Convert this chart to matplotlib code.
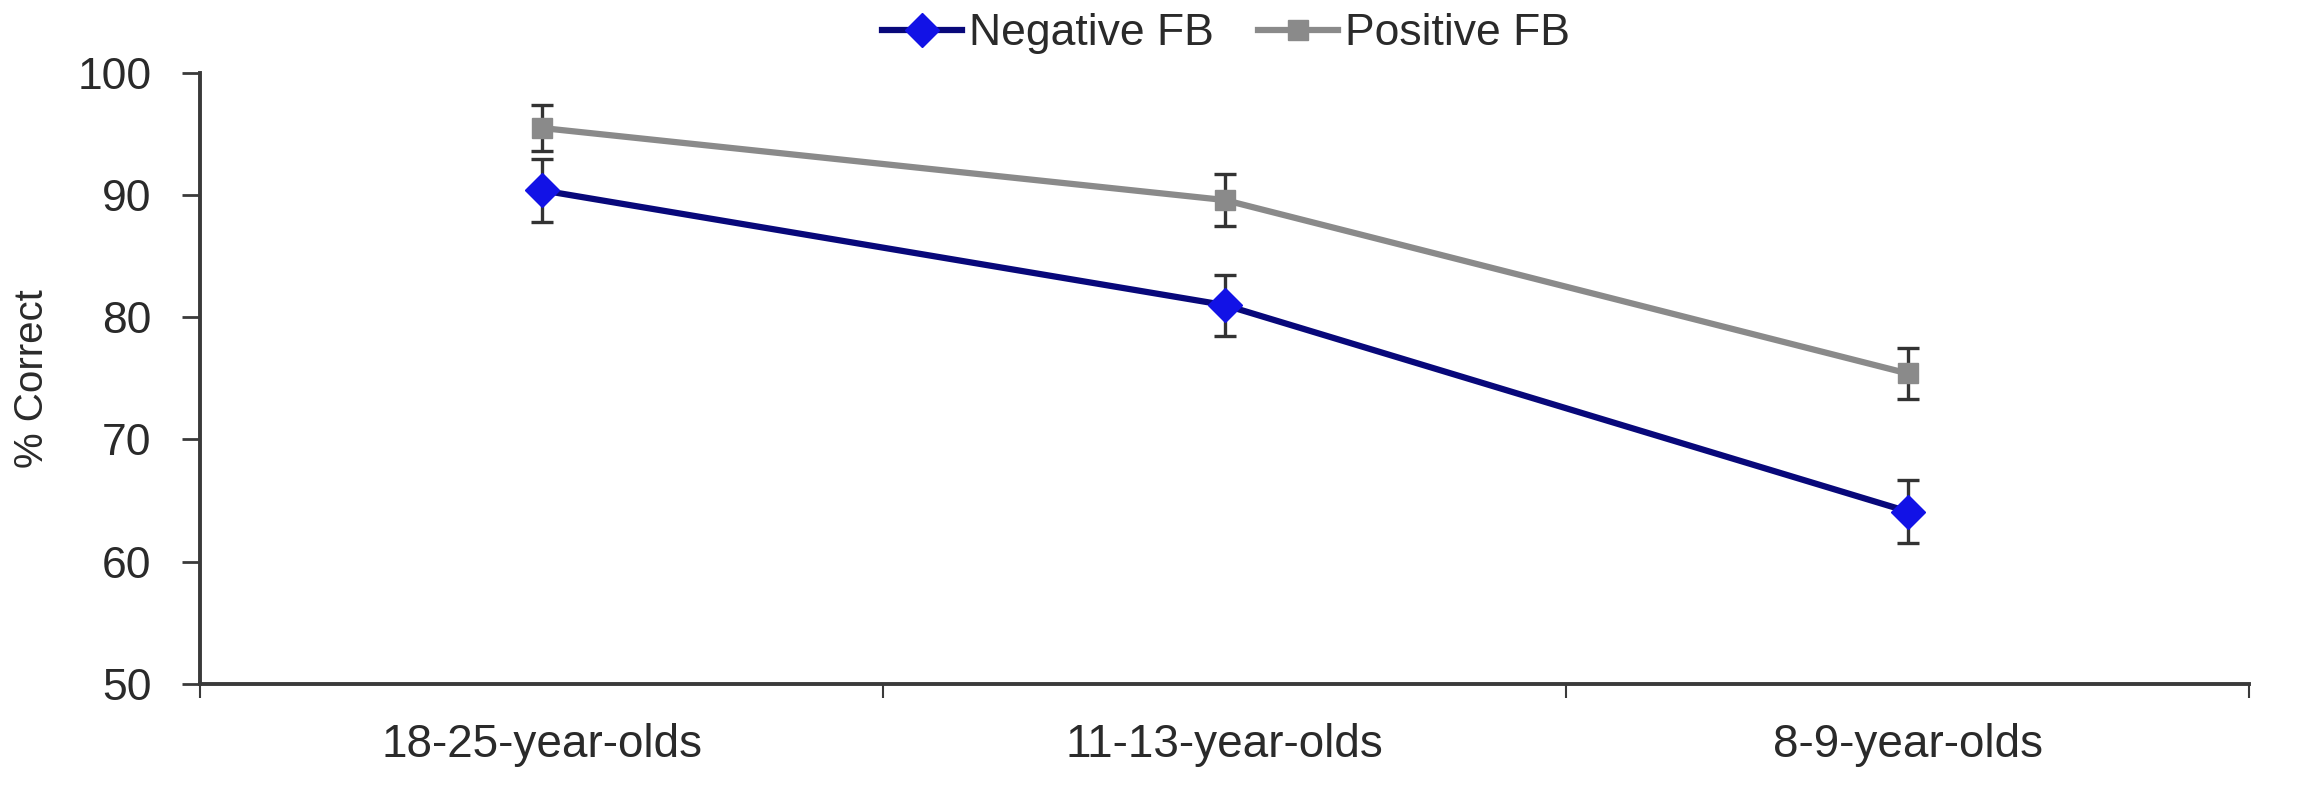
import matplotlib.pyplot as plt
import numpy as np

plt.rcParams['font.family'] = ['Liberation Sans', 'DejaVu Sans']

groups = ['18-25-year-olds', '11-13-year-olds', '8-9-year-olds']
negative_fb = [90.4, 81.0, 64.1]
negative_err = [2.6, 2.5, 2.6]
positive_fb = [95.5, 89.6, 75.4]
positive_err = [1.9, 2.1, 2.1]


def draw_series(ax, x, values, errors, label, line_color, marker, marker_color, msize):
    """ Line with markers and capped error bars """
    ax.errorbar(x, values, yerr=errors, fmt='none', ecolor='#333333',
                elinewidth=2.4, capsize=8, capthick=2.4, zorder=2)
    ax.plot(x, values, color=line_color, linewidth=4.5, marker=marker,
            markersize=msize, markerfacecolor=marker_color,
            markeredgecolor=marker_color, label=label, zorder=3)


fig = plt.figure(figsize=(23, 7.85), dpi=100)
ax = fig.add_axes([0.087, 0.129, 0.891, 0.778])

x = np.arange(len(groups)) + 0.5
draw_series(ax, x, negative_fb, negative_err, 'Negative FB', '#08087a', 'D', '#1212e6', 17)
draw_series(ax, x, positive_fb, positive_err, 'Positive FB', '#8a8a8a', 's', '#8a8a8a', 15)

ax.set_xlim(0, len(groups))
ax.set_ylim(50, 100)
ax.set_yticks(np.arange(50, 101, 10))

# boundaries as major ticks, group names centred as minor ticks
ax.set_xticks(np.arange(len(groups) + 1))
ax.set_xticklabels([])
ax.set_xticks(x, minor=True)
ax.set_xticklabels(groups, minor=True)
ax.tick_params(axis='x', which='major', length=10, width=1.5, color='#3a3a3a')
ax.tick_params(axis='x', which='minor', length=0, pad=28, labelsize=33, labelcolor='#2a2a2a')
ax.tick_params(axis='y', length=13, width=2, color='#3a3a3a', pad=22,
               labelsize=32, labelcolor='#2a2a2a')

for side in ['top', 'right']:
    ax.spines[side].set_visible(False)
for side in ['left', 'bottom']:
    ax.spines[side].set_linewidth(2.8)
    ax.spines[side].set_color('#3a3a3a')

ax.set_ylabel('% Correct', fontsize=29, color='#2a2a2a')
ax.yaxis.set_label_coords(-0.073, 0.5)

fig.legend(loc='center', bbox_to_anchor=(0.533, 0.957), ncol=2, frameon=False,
           fontsize=32, handlelength=1.8, handletextpad=0.15, columnspacing=1.0,
           labelcolor='#2a2a2a')

fig.savefig('out.png', dpi=100, facecolor='white')
plt.close()
